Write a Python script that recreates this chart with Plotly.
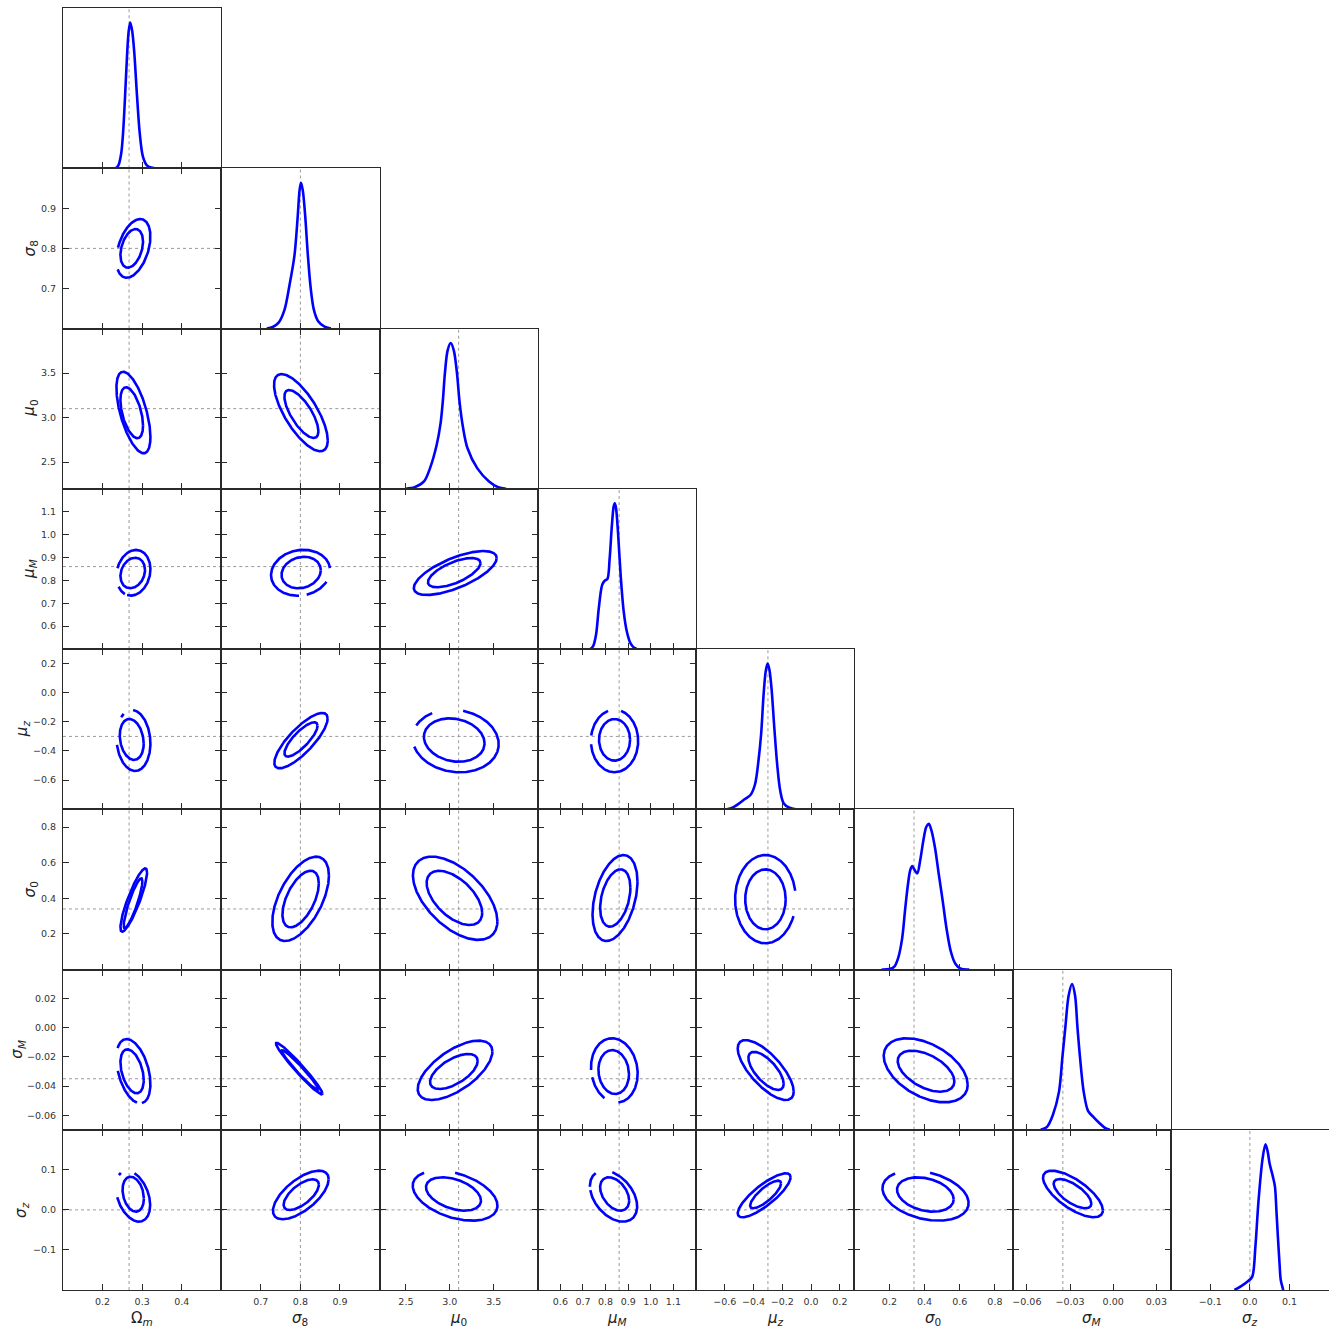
import numpy as np
import plotly.graph_objects as go

# ---------------------------------------------------------------- parameters
LABELS = [
    "Ω<sub><i>m</i></sub>", "<i>σ</i><sub>8</sub>", "<i>μ</i><sub>0</sub>",
    "<i>μ</i><sub><i>M</i></sub>", "<i>μ</i><sub><i>z</i></sub>",
    "<i>σ</i><sub>0</sub>", "<i>σ</i><sub><i>M</i></sub>", "<i>σ</i><sub><i>z</i></sub>",
]
RANGES = [[0.1, 0.5], [0.6, 1.0], [2.2, 4.0], [0.5, 1.2],
          [-0.8, 0.3], [0.0, 0.9], [-0.07, 0.04], [-0.2, 0.2]]
TRUTH = [0.267, 0.8, 3.1, 0.86, -0.3, 0.34, -0.035, 0.0]
X_TICKS = [[0.2, 0.3, 0.4], [0.7, 0.8, 0.9], [2.5, 3.0, 3.5],
           [0.6, 0.7, 0.8, 0.9, 1.0, 1.1], [-0.6, -0.4, -0.2, 0.0, 0.2],
           [0.2, 0.4, 0.6, 0.8], [-0.06, -0.03, 0.0, 0.03], [-0.1, 0.0, 0.1]]
Y_TICKS = [[0.2, 0.3, 0.4], [0.7, 0.8, 0.9], [2.5, 3.0, 3.5],
           [0.6, 0.7, 0.8, 0.9, 1.0, 1.1], [-0.6, -0.4, -0.2, 0.0, 0.2],
           [0.2, 0.4, 0.6, 0.8], [-0.06, -0.04, -0.02, 0.0, 0.02], [-0.1, 0.0, 0.1]]
TICK_DECIMALS = [1, 1, 1, 1, 1, 1, 2, 1]

# ---------------------------------------------------------------- 1D marginals (peak-normalised)
OMEGA_M_X = [0.233, 0.240, 0.247, 0.252, 0.257, 0.262, 0.266, 0.270, 0.275, 0.280,
             0.287, 0.294, 0.302, 0.312, 0.322, 0.332]
OMEGA_M_Y = [0.0, 0.02, 0.10, 0.25, 0.50, 0.78, 0.94, 1.0, 0.94, 0.80,
             0.50, 0.24, 0.08, 0.02, 0.005, 0.0]

SIGMA_8_X = [0.715, 0.730, 0.745, 0.760, 0.772, 0.785, 0.793, 0.798, 0.8015, 0.806,
             0.812, 0.819, 0.826, 0.834, 0.845, 0.860, 0.877]
SIGMA_8_Y = [0.0, 0.01, 0.04, 0.13, 0.29, 0.50, 0.76, 0.95, 1.0, 0.95,
             0.78, 0.50, 0.28, 0.13, 0.05, 0.015, 0.0]

MU_0_X = [2.50, 2.60, 2.706, 2.774, 2.85, 2.895, 2.92, 2.945, 2.975, 3.01,
          3.045, 3.08, 3.11, 3.15, 3.20, 3.313, 3.446, 3.55, 3.64]
MU_0_Y = [0.0, 0.01, 0.05, 0.14, 0.30, 0.45, 0.60, 0.80, 0.95, 1.0,
          0.95, 0.80, 0.60, 0.42, 0.28, 0.14, 0.05, 0.01, 0.0]

MU_M_X = [0.733, 0.745, 0.758, 0.770, 0.785, 0.797, 0.808, 0.818, 0.828, 0.836,
          0.8406, 0.846, 0.855, 0.867, 0.880, 0.894, 0.910, 0.925, 0.938]
MU_M_Y = [0.0, 0.02, 0.10, 0.28, 0.44, 0.47, 0.48, 0.62, 0.85, 0.98,
          1.0, 0.97, 0.80, 0.50, 0.26, 0.12, 0.04, 0.01, 0.0]

MU_Z_X = [-0.583, -0.54, -0.50, -0.46, -0.42, -0.39, -0.365, -0.347, -0.33, -0.315,
          -0.302, -0.29, -0.275, -0.255, -0.235, -0.215, -0.19, -0.15, -0.106]
MU_Z_Y = [0.0, 0.015, 0.04, 0.07, 0.10, 0.17, 0.34, 0.52, 0.79, 0.95,
          1.0, 0.96, 0.83, 0.55, 0.30, 0.13, 0.04, 0.01, 0.0]

SIGMA_0_X = [0.156, 0.20, 0.228, 0.25, 0.272, 0.29, 0.305, 0.318, 0.329, 0.340,
             0.358, 0.375, 0.395, 0.41, 0.424, 0.44, 0.46, 0.48, 0.502, 0.525,
             0.55, 0.575, 0.603, 0.654]
SIGMA_0_Y = [0.0, 0.003, 0.02, 0.08, 0.21, 0.42, 0.58, 0.68, 0.71, 0.69,
             0.66, 0.75, 0.90, 0.98, 1.0, 0.95, 0.83, 0.66, 0.48, 0.28,
             0.12, 0.04, 0.008, 0.0]

SIGMA_M_X = [-0.0504, -0.046, -0.042, -0.0377, -0.0353, -0.0332, -0.031, -0.0286, -0.0265,
             -0.0249, -0.0231, -0.0205, -0.0175, -0.014, -0.010, -0.006, -0.0024]
SIGMA_M_Y = [0.0, 0.02, 0.10, 0.26, 0.50, 0.71, 0.92, 1.0, 0.92,
             0.71, 0.50, 0.26, 0.13, 0.09, 0.05, 0.015, 0.0]

SIGMA_Z_X = [-0.039, -0.02, -0.005, 0.0058, 0.014, 0.0215, 0.032, 0.0394, 0.045,
             0.0497, 0.058, 0.0634, 0.067, 0.0707, 0.075, 0.078, 0.0844]
SIGMA_Z_Y = [0.0, 0.03, 0.06, 0.09, 0.30, 0.60, 0.90, 1.0, 0.95,
             0.87, 0.78, 0.71, 0.55, 0.37, 0.18, 0.07, 0.0]

MARGINALS = [(OMEGA_M_X, OMEGA_M_Y), (SIGMA_8_X, SIGMA_8_Y), (MU_0_X, MU_0_Y),
             (MU_M_X, MU_M_Y), (MU_Z_X, MU_Z_Y), (SIGMA_0_X, SIGMA_0_Y),
             (SIGMA_M_X, SIGMA_M_Y), (SIGMA_Z_X, SIGMA_Z_Y)]

# ---------------------------------------------------------------- 2D credible contours
# each entry: (column, inner 68% contour, outer 95% contour)
# contour = (centre x, centre y, half-width x, half-height y, correlation)
ROW_SIGMA_8 = [
    (0, (0.2737, 0.800, 0.0286, 0.0483, 0.35), (0.278, 0.800, 0.043, 0.0733, 0.40)),
]
ROW_MU_0 = [
    (0, (0.2737, 3.053, 0.0286, 0.2865, -0.50), (0.278, 3.0565, 0.043, 0.4585, -0.60)),
    (1, (0.8026, 3.040, 0.043, 0.270, -0.72), (0.8013, 3.055, 0.0679, 0.434, -0.72)),
]
ROW_MU_M = [
    (0, (0.2762, 0.832, 0.0311, 0.0668, 0.20), (0.278, 0.833, 0.043, 0.0998, 0.15)),
    (1, (0.802, 0.834, 0.0497, 0.069, 0.15), (0.8005, 0.833, 0.0747, 0.1005, 0.10)),
    (2, (3.050, 0.8335, 0.299, 0.064, 0.65), (3.0615, 0.832, 0.4715, 0.096, 0.68)),
]
ROW_MU_Z = [
    (0, (0.2737, -0.321, 0.0303, 0.1407, -0.20), (0.278, -0.328, 0.043, 0.2094, -0.10)),
    (1, (0.8015, -0.321, 0.0419, 0.118, 0.80), (0.8015, -0.329, 0.0674, 0.190, 0.80)),
    (2, (3.050, -0.325, 0.345, 0.149, -0.15), (3.066, -0.3315, 0.490, 0.215, -0.10)),
    (3, (0.8397, -0.3236, 0.0688, 0.1431, 0.0), (0.8397, -0.3315, 0.1046, 0.2149, 0.0)),
]
ROW_SIGMA_0 = [
    (0, (0.277, 0.372, 0.0237, 0.1404, 0.88), (0.2788, 0.390, 0.0337, 0.178, 0.87)),
    (1, (0.8006, 0.396, 0.046, 0.159, 0.55), (0.8006, 0.397, 0.0716, 0.2368, 0.55)),
    (2, (3.052, 0.402, 0.316, 0.1525, -0.55), (3.0605, 0.400, 0.4805, 0.234, -0.55)),
    (3, (0.8428, 0.4016, 0.067, 0.1612, 0.35), (0.8417, 0.4015, 0.0995, 0.2415, 0.38)),
    (4, (-0.3173, 0.394, 0.1407, 0.1685, 0.0), (-0.3173, 0.395, 0.211, 0.248, 0.0)),
]
ROW_SIGMA_M = [
    (0, (0.2746, -0.0299, 0.0295, 0.0151, -0.40), (0.278, -0.0298, 0.043, 0.0221, -0.40)),
    (1, (0.799, -0.029, 0.0464, 0.0137, -0.97), (0.797, -0.028, 0.0586, 0.0177, -0.97)),
    (2, (3.0457, -0.030, 0.2713, 0.012, 0.60), (3.0593, -0.0292, 0.4248, 0.0204, 0.63)),
    (3, (0.836, -0.0304, 0.0677, 0.0151, -0.10), (0.8388, -0.0293, 0.1033, 0.0221, -0.10)),
    (4, (-0.3131, -0.0296, 0.1227, 0.0131, -0.68), (-0.3155, -0.029, 0.1946, 0.0206, -0.72)),
    (5, (0.4083, -0.0298, 0.1612, 0.0141, -0.50), (0.4064, -0.0292, 0.2389, 0.022, -0.45)),
]
ROW_SIGMA_Z = [
    (0, (0.2775, 0.0392, 0.027, 0.0437, -0.25), (0.2769, 0.0342, 0.0434, 0.0637, -0.35)),
    (1, (0.8022, 0.038, 0.0446, 0.0383, 0.65), (0.8011, 0.0372, 0.0705, 0.0607, 0.65)),
    (2, (3.0416, 0.0397, 0.3128, 0.0417, -0.40), (3.0598, 0.0354, 0.4822, 0.0624, -0.40)),
    (3, (0.8401, 0.0397, 0.0643, 0.0417, -0.40), (0.8353, 0.0342, 0.1046, 0.0637, -0.40)),
    (4, (-0.3162, 0.0384, 0.1077, 0.0345, 0.80), (-0.3263, 0.0364, 0.1839, 0.0549, 0.82)),
    (5, (0.4044, 0.0384, 0.1612, 0.0429, -0.28), (0.4055, 0.0354, 0.245, 0.0624, -0.30)),
    (6, (-0.0283, 0.0405, 0.0131, 0.0366, -0.68), (-0.028, 0.0397, 0.0208, 0.0582, -0.70)),
]
ROWS_2D = {1: ROW_SIGMA_8, 2: ROW_MU_0, 3: ROW_MU_M, 4: ROW_MU_Z,
           5: ROW_SIGMA_0, 6: ROW_SIGMA_M, 7: ROW_SIGMA_Z}

# breaks in the outer contour line, as ranges of the contour angle (degrees)
OUTER_BREAKS = {
    (1, 0): [(155, 202)],
    (3, 0): [(160, 209), (240, 248)],
    (3, 1): [(-29, 6), (267, 282)],
    (4, 0): [(91, 125), (136, 194)],
    (4, 2): [(80, 123), (156, 196)],
    (4, 3): [(74, 106), (170, 186)],
    (5, 4): [(-22.5, 10.7)],
    (6, 0): [(158, 203), (282, 300)],
    (6, 3): [(185, 198), (245, 280)],
    (7, 0): [(85, 135), (145, 203)],
    (7, 2): [(90, 137)],
    (7, 3): [(93, 139), (182, 190)],
    (7, 5): [(84, 135)],
}

# ---------------------------------------------------------------- styling
BLUE = "#0000ff"
FRAME = "#2a2a2a"
TRUTH_COLOR = "#9a9a9a"
FONT = "DejaVu Sans"
N = 8
PLOT_LEFT, PLOT_W = 63, 1266
# horizontal centre (px) of each row's y-axis title
Y_TITLE_PX = [30, 30, 30, 30, 22, 30, 18, 22]


def contour_path(cx, cy, hx, hy, rho, breaks=()):
    t = np.arange(0.0, 360.5, 0.5)
    keep = np.ones_like(t, dtype=bool)
    for g0, g1 in breaks:
        d = (t - g0) % 360.0
        keep &= ~((d > 0) & (d < (g1 - g0)))
    rad = np.radians(t)
    x = cx + hx * np.cos(rad)
    y = cy + hy * (rho * np.cos(rad) + np.sqrt(1.0 - rho ** 2) * np.sin(rad))
    # rotate so that the path starts inside a break (avoids a split at t=0)
    if not keep.all():
        start = int(np.argmin(keep))
        idx = np.r_[start:len(t), 0:start]
        x, y, keep = x[idx], y[idx], keep[idx]
    xs = [float(v) if k else None for v, k in zip(x, keep)]
    ys = [float(v) if k else None for v, k in zip(y, keep)]
    return xs, ys


def tick_text(vals, dec):
    return [f"{v:.{dec}f}".replace("-", "\u2212") for v in vals]


TICK_FONT = dict(family=FONT, size=9.5, color="#333333")

fig = go.Figure()
layout = dict(
    width=1329, height=1329,
    margin=dict(l=63, r=0, t=8, b=39),
    paper_bgcolor="white", plot_bgcolor="white",
    showlegend=False,
    font=dict(family=FONT, color="#333333", size=10),
)
shapes = []
annotations = []

k = 0
for r in range(N):
    for c in range(r + 1):
        k += 1
        xs_name = "x" if k == 1 else f"x{k}"
        ys_name = "y" if k == 1 else f"y{k}"
        xdom = [c / N, (c + 1) / N]
        ydom = [1 - (r + 1) / N, 1 - r / N]
        diag = r == c

        xaxis = dict(
            domain=xdom, anchor=ys_name, range=RANGES[c],
            tickmode="array", tickvals=X_TICKS[c],
            ticktext=tick_text(X_TICKS[c], TICK_DECIMALS[c]),
            ticks="inside", ticklen=6, tickwidth=1, tickcolor=FRAME,
            showline=True, linecolor=FRAME, linewidth=1,
            mirror=True if diag else "ticks",
            showgrid=False, zeroline=False,
            showticklabels=(r == N - 1), ticklabelstandoff=3,
            tickfont=TICK_FONT,
        )
        if diag:
            yaxis = dict(
                domain=ydom, anchor=xs_name, range=[0, 1.1],
                ticks="", showticklabels=False,
                showline=True, linecolor=FRAME, linewidth=1, mirror=True,
                showgrid=False, zeroline=False,
            )
        else:
            yaxis = dict(
                domain=ydom, anchor=xs_name, range=RANGES[r],
                tickmode="array", tickvals=Y_TICKS[r],
                ticktext=tick_text(Y_TICKS[r], TICK_DECIMALS[r]),
                ticks="inside", ticklen=6, tickwidth=1, tickcolor=FRAME,
                showline=True, linecolor=FRAME, linewidth=1, mirror="ticks",
                showgrid=False, zeroline=False,
                showticklabels=(c == 0), ticklabelstandoff=4,
                tickfont=TICK_FONT,
            )
        layout["xaxis" if k == 1 else f"xaxis{k}"] = xaxis
        layout["yaxis" if k == 1 else f"yaxis{k}"] = yaxis

        # fiducial values as dotted guide lines
        shapes.append(dict(type="line", xref=xs_name, yref=f"{ys_name} domain",
                           x0=TRUTH[c], x1=TRUTH[c], y0=0, y1=1, layer="below",
                           line=dict(color=TRUTH_COLOR, width=1, dash="dot")))
        if not diag:
            shapes.append(dict(type="line", xref=f"{xs_name} domain", yref=ys_name,
                               x0=0, x1=1, y0=TRUTH[r], y1=TRUTH[r], layer="below",
                               line=dict(color=TRUTH_COLOR, width=1, dash="dot")))

        if diag:
            mx, my = MARGINALS[c]
            fig.add_trace(go.Scatter(
                x=mx, y=my, mode="lines", xaxis=xs_name, yaxis=ys_name,
                line=dict(color=BLUE, width=2.6, shape="spline", smoothing=0.9),
                hoverinfo="skip"))
        else:
            entry = [e for e in ROWS_2D[r] if e[0] == c][0]
            _, inner, outer = entry
            xi, yi = contour_path(*inner)
            xo, yo = contour_path(*outer, breaks=OUTER_BREAKS.get((r, c), ()))
            fig.add_trace(go.Scatter(
                x=xi + [None] + xo, y=yi + [None] + yo, mode="lines",
                xaxis=xs_name, yaxis=ys_name, connectgaps=False,
                line=dict(color=BLUE, width=2.6), hoverinfo="skip"))

# axis titles
for c in range(N):
    annotations.append(dict(
        text=LABELS[c], xref="paper", yref="paper",
        x=(c + 0.5) / N, y=-0.0225, xanchor="center", yanchor="middle",
        showarrow=False, font=dict(family=FONT, size=15, color="#222222")))
for r in range(1, N):
    annotations.append(dict(
        text=LABELS[r], xref="paper", yref="paper",
        x=(Y_TITLE_PX[r] - PLOT_LEFT) / PLOT_W, y=1 - (r + 0.5) / N,
        xanchor="center", yanchor="middle",
        textangle=-90, showarrow=False,
        font=dict(family=FONT, size=15, color="#222222")))

layout["shapes"] = shapes
layout["annotations"] = annotations
fig.update_layout(**layout)
fig.write_html("out.html")
